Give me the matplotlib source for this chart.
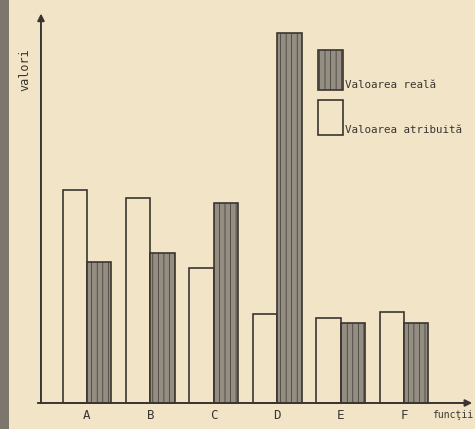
import matplotlib
matplotlib.use('Agg')
import matplotlib.pyplot as plt
from matplotlib.patches import Rectangle

# Data (arbitrary units)
categories = ['A', 'B', 'C', 'D', 'E', 'F']
valoarea_atribuita = [5.75, 5.55, 3.65, 2.4, 2.3, 2.45]
valoarea_reala = [3.8, 4.05, 5.4, 10.0, 2.15, 2.15]

paper = '#f2e4c6'
ink = '#3a3530'
dark_fill = '#938d82'

plt.rcParams['hatch.color'] = '#6c675e'
plt.rcParams['hatch.linewidth'] = 0.5

fig = plt.figure(figsize=(4.75, 4.29), dpi=100)
fig.patch.set_facecolor(paper)
ax = fig.add_axes([0, 0, 1, 1])
ax.set_facecolor(paper)

# pixel -> data mapping chosen so the picture lines up with the scan
ax.set_xlim(-1.372, 6.12)
ax.set_ylim(-0.703, 10.89)
ax.axis('off')

x = list(range(len(categories)))
w = 0.386
ax.bar([i - w / 2 for i in x], valoarea_atribuita, width=w, color=paper,
       edgecolor=ink, linewidth=1.2, zorder=2)
ax.bar([i + w / 2 for i in x], valoarea_reala, width=w, color=dark_fill,
       edgecolor=ink, linewidth=1.2, hatch='|||', zorder=2)

# axes with arrows
ax.annotate('', xy=(-0.7256, 10.6), xytext=(-0.7256, -0.08),
            arrowprops=dict(arrowstyle='-|>', color=ink, lw=1.4,
                            mutation_scale=10), zorder=3)
ax.annotate('', xy=(6.12, 0), xytext=(-0.82, 0),
            arrowprops=dict(arrowstyle='-|>', color=ink, lw=1.4,
                            mutation_scale=10), zorder=3)

for i, c in zip(x, categories):
    ax.text(i, -0.33, c, ha='center', va='center', fontsize=9,
            family='DejaVu Sans Mono', color=ink)

ax.text(-0.98, 9.0, 'valori', rotation=90, ha='center', va='center',
        fontsize=8.5, family='DejaVu Sans Mono', color=ink)
fig.text(473 / 475, 1 - 415 / 429, 'funcţii', ha='right', va='center',
         fontsize=7, family='DejaVu Sans Mono', color=ink)

# hand-drawn legend
fig.patches.append(Rectangle((318 / 475, 1 - 90 / 429), 25 / 475, 40 / 429,
                             transform=fig.transFigure, facecolor=dark_fill,
                             edgecolor=ink, lw=1.2, hatch='|||'))
fig.patches.append(Rectangle((318 / 475, 1 - 135 / 429), 25 / 475, 35 / 429,
                             transform=fig.transFigure, facecolor=paper,
                             edgecolor=ink, lw=1.2))
fig.text(345 / 475, 1 - 85 / 429, 'Valoarea reală', ha='left', va='center',
         fontsize=7.8, family='DejaVu Sans Mono', color=ink)
fig.text(345 / 475, 1 - 130 / 429, 'Valoarea atribuită', ha='left',
         va='center', fontsize=7.8, family='DejaVu Sans Mono', color=ink)

# dark binding shadow on the left edge of the scan
fig.patches.append(Rectangle((0, 0), 9 / 475, 1, transform=fig.transFigure,
                             facecolor='#7d766c', edgecolor='none'))

fig.savefig('out.png', dpi=100, facecolor=paper)
